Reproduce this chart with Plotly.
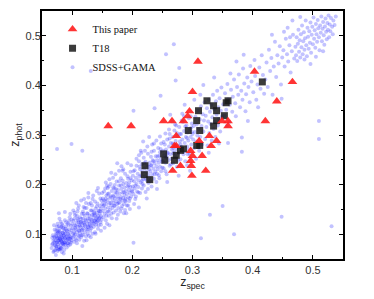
import plotly.graph_objects as go

# ---- "This paper" (red triangles) ----
paper_x = [0.309, 0.403, 0.466, 0.300, 0.440, 0.295, 0.292, 0.160, 0.198, 0.252,
           0.266, 0.285, 0.349, 0.359, 0.359, 0.421, 0.273, 0.328, 0.340, 0.311,
           0.270, 0.273, 0.331, 0.297, 0.300, 0.316, 0.297, 0.280, 0.298, 0.267,
           0.322, 0.299]
paper_y = [0.448, 0.428, 0.407, 0.387, 0.368, 0.348, 0.338, 0.318, 0.318, 0.328,
           0.328, 0.328, 0.328, 0.328, 0.318, 0.328, 0.298, 0.298, 0.288, 0.288,
           0.278, 0.278, 0.278, 0.268, 0.258, 0.258, 0.248, 0.238, 0.238, 0.228,
           0.228, 0.218]

# ---- "T18" (black squares) ----
t18_x = [0.416, 0.324, 0.335, 0.356, 0.359, 0.310, 0.340, 0.307, 0.340, 0.353,
         0.335, 0.293, 0.312, 0.307, 0.312, 0.285, 0.280, 0.273, 0.252, 0.254,
         0.270, 0.221, 0.220, 0.229]
t18_y = [0.407, 0.369, 0.359, 0.365, 0.369, 0.349, 0.349, 0.329, 0.329, 0.339,
         0.318, 0.309, 0.309, 0.279, 0.279, 0.272, 0.269, 0.259, 0.262, 0.249,
         0.249, 0.238, 0.220, 0.210]

# ---- "SDSS+GAMA" (blue cloud), read band by band ----
gama_x_a = [0.066,0.068,0.069,0.070,0.071,0.072,0.072,0.073,0.074,0.074,0.075,0.075,0.076,0.076,0.077,0.077,0.078,0.078,0.079,0.079,
            0.080,0.080,0.081,0.081,0.082,0.082,0.083,0.083,0.084,0.084,0.085,0.085,0.086,0.086,0.087,0.087,0.088,0.088,0.089,0.089,
            0.090,0.090,0.091,0.091,0.092,0.092,0.093,0.093,0.094,0.094,0.095,0.095,0.096,0.096,0.097,0.097,0.098,0.098,0.099,0.099,
            0.071,0.076,0.079,0.083,0.086,0.073,0.069,0.067,0.078,0.088,0.081,0.077,0.075,0.080,0.084,0.087,0.074,0.079,0.082,0.085]
gama_y_a = [0.072,0.081,0.064,0.095,0.077,0.088,0.068,0.101,0.083,0.071,0.092,0.115,0.079,0.066,0.087,0.104,0.074,0.097,0.083,0.069,
            0.091,0.112,0.078,0.099,0.086,0.071,0.094,0.121,0.081,0.103,0.089,0.075,0.097,0.111,0.084,0.068,0.092,0.128,0.101,0.079,
            0.087,0.116,0.095,0.073,0.106,0.089,0.082,0.122,0.098,0.077,0.110,0.091,0.085,0.134,0.103,0.079,0.094,0.117,0.088,0.108,
            0.109,0.121,0.131,0.064,0.061,0.058,0.087,0.093,0.142,0.145,0.088,0.093,0.084,0.070,0.092,0.099,0.096,0.106,0.115,0.082]
gama_x_a2 = [0.067,0.070,0.072,0.074,0.075,0.077,0.078,0.080,0.081,0.083,0.084,0.086,0.087,0.089,0.090,0.092,0.093,0.095,0.096,0.098,
             0.068,0.071,0.073,0.076,0.079,0.082,0.085,0.088,0.091,0.094,0.097,0.099,0.070,0.074,0.078,0.081,0.085,0.089,0.093,0.097]
gama_y_a2 = [0.079,0.066,0.093,0.075,0.101,0.069,0.088,0.104,0.072,0.085,0.118,0.079,0.106,0.094,0.124,0.081,0.101,0.127,0.096,0.083,
             0.098,0.084,0.076,0.107,0.091,0.097,0.113,0.083,0.108,0.119,0.091,0.129,0.118,0.108,0.116,0.125,0.102,0.111,0.091,0.141]

gama_x_b = [0.101,0.101,0.102,0.103,0.103,0.104,0.105,0.105,0.106,0.106,0.107,0.108,0.108,0.109,0.109,0.110,0.110,0.111,0.112,0.112,
            0.113,0.113,0.114,0.115,0.115,0.116,0.116,0.117,0.118,0.118,0.119,0.119,0.120,0.121,0.121,0.122,0.123,0.123,0.124,0.125,
            0.125,0.126,0.126,0.127,0.128,0.128,0.129,0.130,0.130,0.131,0.132,0.132,0.133,0.134,0.134,0.135,0.136,0.136,0.137,0.138,
            0.138,0.139,0.140,0.140,0.141,0.142,0.142,0.143,0.144,0.144,0.145,0.146,0.146,0.147,0.148,0.148,0.149,0.149,0.102,0.111,
            0.117,0.124,0.131,0.139,0.145,0.135,0.107,0.127,0.115,0.121,0.133,0.141,0.104,0.112,0.147,0.129,0.137,0.143,0.118,0.126]
gama_y_b = [0.112,0.093,0.127,0.104,0.085,0.118,0.099,0.138,0.109,0.091,0.123,0.104,0.082,0.115,0.146,0.097,0.128,0.108,0.119,0.089,
            0.134,0.102,0.113,0.125,0.094,0.141,0.107,0.118,0.099,0.131,0.112,0.155,0.123,0.104,0.137,0.116,0.127,0.096,0.109,0.142,
            0.121,0.132,0.101,0.114,0.126,0.161,0.137,0.118,0.107,0.148,0.129,0.112,0.139,0.122,0.171,0.133,0.115,0.146,0.127,0.138,
            0.104,0.152,0.131,0.119,0.143,0.126,0.162,0.137,0.148,0.118,0.131,0.157,0.141,0.124,0.152,0.136,0.168,0.129,0.148,0.158,
            0.076,0.088,0.094,0.101,0.182,0.178,0.163,0.183,0.131,0.119,0.126,0.134,0.131,0.107,0.146,0.121,0.142,0.128,0.123,0.115]
gama_x_b2 = [0.100,0.102,0.104,0.105,0.107,0.109,0.110,0.112,0.114,0.115,0.117,0.119,0.120,0.122,0.124,0.126,0.127,0.129,0.131,0.133,
             0.134,0.136,0.138,0.140,0.141,0.143,0.145,0.147,0.148,0.150,0.103,0.108,0.113,0.118,0.123,0.128,0.133,0.138,0.143,0.148,
             0.106,0.111,0.116,0.121,0.126,0.131,0.136,0.141,0.146,0.120]
gama_y_b2 = [0.121,0.101,0.143,0.112,0.088,0.131,0.152,0.096,0.124,0.168,0.109,0.141,0.087,0.129,0.153,0.109,0.174,0.131,0.115,0.158,
             0.101,0.139,0.166,0.124,0.187,0.111,0.147,0.172,0.119,0.161,0.097,0.137,0.117,0.146,0.163,0.097,0.148,0.127,0.193,0.107,
             0.117,0.124,0.098,0.153,0.141,0.163,0.121,0.156,0.133,0.171]

gama_x_c = [0.151,0.151,0.152,0.153,0.153,0.154,0.155,0.155,0.156,0.157,0.157,0.158,0.159,0.159,0.160,0.161,0.161,0.162,0.163,0.163,
            0.164,0.165,0.165,0.166,0.167,0.167,0.168,0.169,0.169,0.170,0.171,0.171,0.172,0.173,0.173,0.174,0.175,0.175,0.176,0.177,
            0.177,0.178,0.179,0.179,0.180,0.181,0.181,0.182,0.183,0.183,0.184,0.185,0.185,0.186,0.187,0.187,0.188,0.189,0.189,0.190,
            0.191,0.191,0.192,0.193,0.193,0.194,0.195,0.195,0.196,0.197,0.197,0.198,0.199,0.199,0.156,0.162,0.168,0.174,0.182,0.186,
            0.192,0.196,0.158,0.178,0.188,0.171,0.164,0.184,0.159]
gama_y_c = [0.147,0.172,0.134,0.159,0.186,0.141,0.166,0.152,0.128,0.178,0.161,0.145,0.193,0.169,0.154,0.137,0.182,0.163,0.149,0.174,
            0.201,0.158,0.141,0.187,0.169,0.153,0.178,0.144,0.163,0.192,0.172,0.157,0.184,0.166,0.148,0.206,0.176,0.161,0.189,0.153,
            0.171,0.198,0.182,0.164,0.146,0.175,0.213,0.191,0.168,0.157,0.184,0.201,0.173,0.161,0.194,0.179,0.222,0.187,0.166,0.203,
            0.181,0.158,0.196,0.174,0.212,0.189,0.167,0.204,0.183,0.226,0.195,0.176,0.209,0.188,0.204,0.118,0.214,0.131,0.237,0.142,
            0.243,0.151,0.121,0.228,0.149,0.199,0.176,0.208,0.181]
gama_x_c2 = [0.150,0.152,0.154,0.156,0.158,0.160,0.162,0.164,0.166,0.168,0.170,0.172,0.174,0.176,0.178,0.180,0.182,0.184,0.186,0.188,
             0.190,0.192,0.194,0.196,0.198,0.200,0.153,0.157,0.161,0.165,0.169,0.173,0.177,0.181,0.185,0.189,0.193,0.197,0.155,0.175]
gama_y_c2 = [0.183,0.157,0.113,0.172,0.198,0.146,0.211,0.163,0.132,0.194,0.158,0.221,0.183,0.139,0.207,0.171,0.152,0.228,0.185,0.168,
             0.142,0.217,0.198,0.172,0.239,0.186,0.168,0.137,0.196,0.224,0.176,0.191,0.163,0.198,0.231,0.172,0.158,0.213,0.192,0.243]

gama_x_d = [0.201,0.201,0.202,0.203,0.204,0.204,0.205,0.206,0.207,0.207,0.208,0.209,0.210,0.210,0.211,0.212,0.213,0.213,0.214,0.215,
            0.216,0.216,0.217,0.218,0.219,0.219,0.220,0.221,0.222,0.222,0.223,0.224,0.225,0.226,0.226,0.227,0.228,0.229,0.229,0.230,
            0.231,0.232,0.232,0.233,0.234,0.235,0.236,0.236,0.237,0.238,0.239,0.240,0.240,0.241,0.242,0.243,0.244,0.244,0.245,0.246,
            0.247,0.248,0.248,0.249,0.203,0.214,0.224,0.233,0.241,0.218,0.246,0.211]
gama_y_d = [0.196,0.218,0.181,0.207,0.229,0.192,0.171,0.214,0.201,0.238,0.186,0.222,0.209,0.195,0.247,0.217,0.183,0.231,0.204,0.219,
            0.192,0.241,0.226,0.211,0.254,0.198,0.233,0.217,0.185,0.246,0.226,0.209,0.238,0.221,0.262,0.203,0.231,0.244,0.215,0.227,
            0.256,0.196,0.238,0.221,0.249,0.232,0.212,0.268,0.243,0.226,0.257,0.237,0.205,0.249,0.231,0.274,0.244,0.219,0.258,0.236,
            0.251,0.227,0.283,0.246,0.161,0.268,0.172,0.281,0.191,0.287,0.297,0.154]
gama_x_d2 = [0.202,0.205,0.207,0.210,0.212,0.215,0.217,0.220,0.222,0.225,0.227,0.230,0.232,0.235,0.237,0.240,0.242,0.245,0.247,0.250,
             0.206,0.211,0.216,0.221,0.226,0.231,0.236,0.241,0.246,0.228]
gama_y_d2 = [0.227,0.198,0.252,0.184,0.236,0.264,0.201,0.243,0.212,0.277,0.236,0.208,0.266,0.247,0.221,0.289,0.257,0.213,0.272,0.234,
             0.176,0.259,0.208,0.268,0.191,0.239,0.283,0.222,0.265,0.296]

gama_x_e = [0.251,0.251,0.252,0.253,0.254,0.255,0.256,0.257,0.257,0.258,0.259,0.260,0.261,0.262,0.262,0.263,0.264,0.265,0.266,0.267,
            0.268,0.268,0.269,0.270,0.271,0.272,0.273,0.274,0.275,0.276,0.277,0.278,0.279,0.280,0.281,0.282,0.283,0.284,0.285,0.286,
            0.287,0.288,0.289,0.290,0.291,0.292,0.293,0.294,0.295,0.296,0.297,0.298,0.299,0.299,0.258,0.266,0.277,0.283,0.291,0.263,
            0.287,0.296,0.271,0.255]
gama_y_e = [0.247,0.268,0.233,0.259,0.281,0.244,0.271,0.256,0.221,0.291,0.264,0.249,0.277,0.238,0.302,0.261,0.284,0.252,0.271,0.296,
            0.243,0.263,0.281,0.309,0.258,0.288,0.272,0.236,0.298,0.279,0.263,0.316,0.287,0.251,0.302,0.276,0.291,0.326,0.266,0.308,
            0.284,0.247,0.296,0.319,0.277,0.305,0.289,0.334,0.262,0.311,0.296,0.281,0.323,0.306,0.205,0.327,0.218,0.343,0.239,0.341,
            0.361,0.228,0.321,0.303]
gama_x_e2 = [0.252,0.255,0.258,0.261,0.264,0.267,0.270,0.273,0.276,0.279,0.282,0.285,0.288,0.291,0.294,0.297,0.300,
             0.256,0.262,0.268,0.274,0.280,0.286,0.292,0.298]
gama_y_e2 = [0.286,0.227,0.263,0.311,0.241,0.283,0.265,0.319,0.248,0.302,0.329,0.261,0.317,0.294,0.271,0.338,0.302,
             0.254,0.293,0.274,0.304,0.281,0.338,0.261,0.315]

gama_x_f = [0.301,0.302,0.303,0.304,0.305,0.306,0.307,0.308,0.309,0.310,0.311,0.312,0.313,0.314,0.315,0.316,0.317,0.318,0.319,0.320,
            0.321,0.322,0.323,0.324,0.325,0.326,0.327,0.328,0.329,0.330,0.331,0.332,0.333,0.334,0.335,0.336,0.337,0.338,0.339,0.340,
            0.341,0.342,0.343,0.344,0.345,0.346,0.347,0.348,0.349,0.318,0.306,0.327,0.344,0.336,0.313,0.303]
gama_y_f = [0.291,0.318,0.274,0.306,0.337,0.287,0.321,0.299,0.349,0.312,0.268,0.331,0.296,0.358,0.318,0.281,0.342,0.307,0.329,0.366,
            0.292,0.339,0.316,0.354,0.279,0.327,0.371,0.304,0.347,0.322,0.361,0.289,0.336,0.381,0.312,0.352,0.327,0.296,0.368,0.341,
            0.389,0.319,0.356,0.333,0.374,0.307,0.349,0.396,0.338,0.401,0.252,0.264,0.283,0.416,0.381,0.371]

gama_x_g = [0.351,0.353,0.354,0.356,0.358,0.359,0.361,0.362,0.364,0.366,0.367,0.369,0.371,0.372,0.374,0.376,0.377,0.379,0.381,0.383,
            0.384,0.386,0.388,0.389,0.391,0.393,0.395,0.396,0.398,0.401,0.403,0.404,0.406,0.408,0.411,0.413,0.415,0.417,0.419,0.357,
            0.373,0.392,0.363,0.385,0.409]
gama_y_g = [0.362,0.339,0.384,0.351,0.403,0.372,0.326,0.361,0.391,0.347,0.377,0.412,0.364,0.338,0.397,0.381,0.422,0.356,0.389,0.371,
            0.434,0.404,0.348,0.382,0.416,0.397,0.366,0.439,0.408,0.386,0.451,0.419,0.371,0.402,0.436,0.393,0.461,0.421,0.383,0.318,
            0.448,0.328,0.424,0.462,0.356]

gama_x_h = [0.421,0.423,0.425,0.427,0.429,0.431,0.433,0.435,0.437,0.439,0.441,0.443,0.445,0.447,0.449,0.451,0.453,0.455,0.457,0.459,
            0.461,0.463,0.465,0.467,0.469,0.432,0.448]
gama_y_h = [0.412,0.446,0.397,0.472,0.429,0.455,0.381,0.438,0.488,0.417,0.461,0.444,0.479,0.402,0.456,0.471,0.438,0.494,0.463,0.448,
            0.481,0.426,0.469,0.502,0.454,0.502,0.373]

gama_x_i = [0.471,0.472,0.473,0.474,0.475,0.476,0.477,0.478,0.479,0.480,0.481,0.482,0.483,0.484,0.485,0.486,0.487,0.488,0.489,0.490,
            0.491,0.492,0.493,0.494,0.495,0.496,0.497,0.498,0.499,0.500,0.501,0.502,0.503,0.504,0.505,0.506,0.507,0.508,0.509,0.510,
            0.511,0.512,0.513,0.514,0.515,0.516,0.517,0.518,0.519,0.520,0.521,0.522,0.523,0.524,0.525,0.526,0.527,0.528,0.529,0.530,
            0.532,0.533,0.534,0.536,0.538,0.486,0.496,0.505,0.517,0.458,0.466,0.479,0.452,0.462]
gama_y_i = [0.478,0.461,0.497,0.449,0.484,0.512,0.468,0.491,0.456,0.503,0.477,0.521,0.463,0.489,0.507,0.472,0.495,0.531,0.481,0.459,
            0.516,0.498,0.474,0.509,0.486,0.527,0.466,0.502,0.518,0.483,0.537,0.494,0.511,0.476,0.524,0.503,0.488,0.532,0.515,0.497,
            0.471,0.521,0.506,0.539,0.489,0.514,0.528,0.501,0.482,0.519,0.535,0.508,0.493,0.526,0.512,0.541,0.497,0.523,0.509,0.536,
            0.518,0.503,0.531,0.522,0.539,0.452,0.443,0.458,0.469,0.516,0.531,0.538,0.508,0.497]

gama_x_out = [0.075,0.099,0.117,0.131,0.202,0.237,0.247,0.256,0.269,0.272,0.278,0.202,0.314,0.329,0.350,0.369,0.448,0.531,
              0.510,0.510,0.382,0.382,0.359]
gama_y_out = [0.272,0.282,0.268,0.429,0.349,0.354,0.379,0.463,0.483,0.410,0.435,0.083,0.092,0.139,0.157,0.100,0.135,0.116,
              0.292,0.328,0.266,0.295,0.284]

gama_x = (gama_x_a + gama_x_a2 + gama_x_b + gama_x_b2 + gama_x_c + gama_x_c2 + gama_x_d + gama_x_d2
          + gama_x_e + gama_x_e2 + gama_x_f + gama_x_g + gama_x_h + gama_x_i + gama_x_out)
gama_y = (gama_y_a + gama_y_a2 + gama_y_b + gama_y_b2 + gama_y_c + gama_y_c2 + gama_y_d + gama_y_d2
          + gama_y_e + gama_y_e2 + gama_y_f + gama_y_g + gama_y_h + gama_y_i + gama_y_out)

tick_vals = [0.1, 0.2, 0.3, 0.4, 0.5]
tick_text = ["0.1", "0.2", "0.3", "0.4", "0.5"]

fig = go.Figure()
fig.add_trace(go.Scatter(
    x=gama_x, y=gama_y, mode="markers", name="SDSS+GAMA", legendrank=3,
    marker=dict(symbol="circle", size=4, color="rgba(20,20,255,0.26)", line=dict(width=0)),
))
fig.add_trace(go.Scatter(
    x=t18_x, y=t18_y, mode="markers", name="T18", legendrank=2,
    marker=dict(symbol="square", size=7, color="rgba(25,25,25,0.85)", line=dict(width=0)),
))
fig.add_trace(go.Scatter(
    x=paper_x, y=paper_y, mode="markers", name="This paper", legendrank=1,
    marker=dict(symbol="triangle-up", size=8.5, color="rgba(255,30,30,0.9)", line=dict(width=0)),
))

axis_common = dict(
    range=[0.05, 0.55], tickvals=tick_vals, ticktext=tick_text,
    ticks="inside", ticklen=4, tickwidth=1, tickcolor="black",
    minor=dict(ticks="inside", ticklen=2.5, tickwidth=1, tickcolor="black", dtick=0.05),
    showline=True, linecolor="black", linewidth=1.8, mirror="ticks",
    showgrid=False, zeroline=False, automargin=False,
    tickfont=dict(family="Liberation Sans, Arial, sans-serif", size=11, color="#333333"),
)

# The page body adds an 8px offset, so the figure is 358x283 placed at (8, 8).
fig.update_layout(
    width=358, height=283,
    margin=dict(l=34, r=23, t=3, b=32),
    paper_bgcolor="white", plot_bgcolor="white",
    showlegend=True,
    legend=dict(x=0.035, y=0.985, xanchor="left", yanchor="top",
                bgcolor="rgba(0,0,0,0)", borderwidth=0,
                font=dict(family="Liberation Serif, Times New Roman, serif", size=10.5, color="#111111"),
                itemwidth=30, tracegroupgap=0),
    xaxis=dict(axis_common, title=dict(text="z<sub>spec</sub>", standoff=4,
               font=dict(family="Liberation Sans, Arial, sans-serif", size=12.5, color="#222222"))),
    yaxis=dict(axis_common, ticklabelstandoff=-3,
               title=dict(text="z<sub>phot</sub>", standoff=4,
               font=dict(family="Liberation Sans, Arial, sans-serif", size=12.5, color="#222222"))),
)

fig.write_html("out.html")
